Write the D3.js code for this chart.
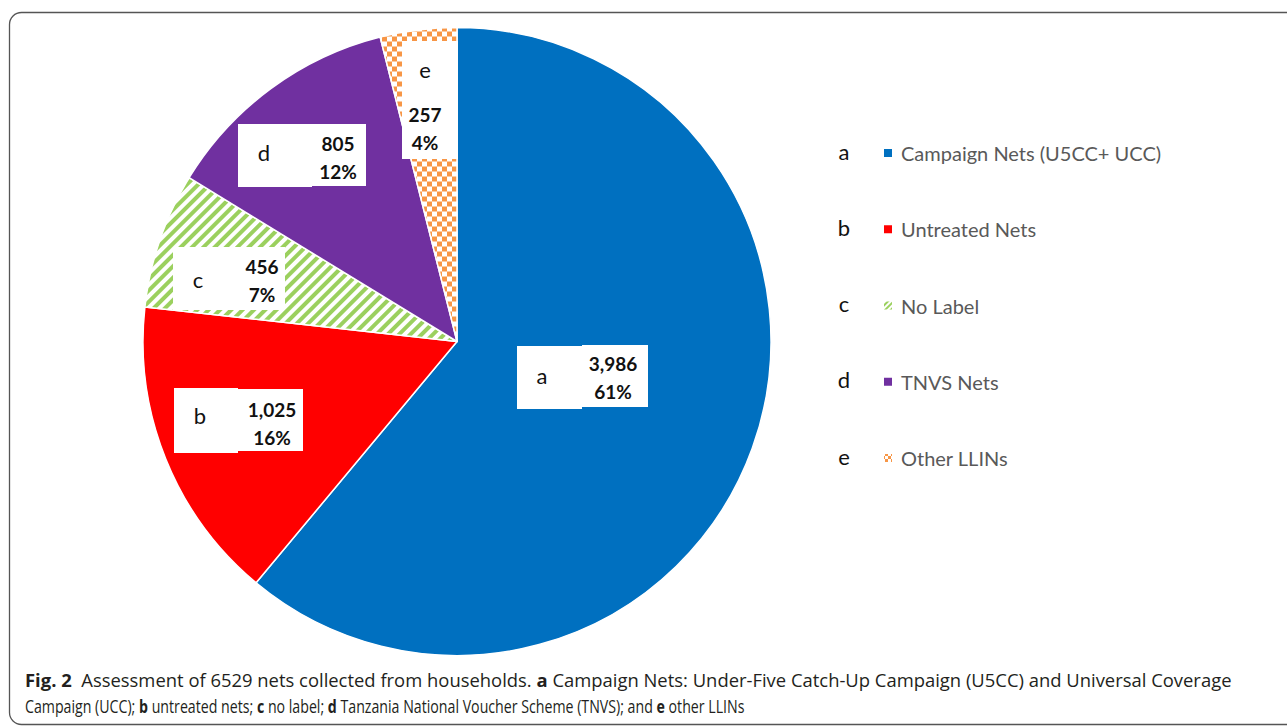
<!DOCTYPE html>
<html>
<head>
<meta charset="utf-8">
<script src="https://cdn.jsdelivr.net/npm/d3@7"></script>
<style>
  html, body { margin: 0; padding: 0; background: #fff; }
  svg { display: block; }
</style>
</head>
<body>
<svg id="chart" width="1287" height="726"></svg>
<script>
// Net categories, in pie order (clockwise from 12 o'clock)
const keys = ["a", "b", "c", "d", "e"];
const categories = ["Campaign Nets (U5CC+ UCC)", "Untreated Nets", "No Label", "TNVS Nets", "Other LLINs"];
const counts = [3986, 1025, 456, 805, 257];

// Caption text runs: [text, bold]
const captionLine1 = [
  ["Fig. 2", true], ["  Assessment of 6529 nets collected from households. ", false],
  ["a", true], [" Campaign Nets: Under-Five Catch-Up Campaign (U5CC) and Universal Coverage", false]
];
const captionLine2 = [
  ["Campaign (UCC); ", false], ["b", true], [" untreated nets; ", false], ["c", true],
  [" no label; ", false], ["d", true], [" Tanzania National Voucher Scheme (TNVS); and ", false],
  ["e", true], [" other LLINs", false]
];

// ---- styling / layout ----
const fills = { a: "#0070C0", b: "#FF0000", c: "url(#hatch)", d: "#7030A0", e: "url(#check)" };
const legendFills = { a: "#0070C0", b: "#FF0000", c: "url(#hatchSmall)", d: "#7030A0", e: "url(#checkSmall)" };
const cx = 457, cy = 341.5, radius = 314;
const labelFont = "Lato, 'Open Sans', sans-serif";

// label boxes: letter box + value box (absolute page coordinates)
const labelLayout = {
  a: { letter: [517, 346, 65, 63], value: [582, 345, 66, 62], lx: 542, ly: 375, vx: 613, vy: 363 },
  b: { letter: [174, 388, 64, 65], value: [237, 389, 66, 62], lx: 200, ly: 415, vx: 272, vy: 409 },
  c: { letter: [173, 247, 56, 63], value: [228, 247, 57, 63], lx: 198, ly: 279, vx: 262, vy: 266 },
  d: { letter: [238, 124, 74, 63], value: [311, 124, 55, 62], lx: 264, ly: 152, vx: 338, vy: 143 },
  e: { letter: [402, 41, 56, 118], value: [402, 41, 56, 118], lx: 425, ly: 69, vx: 425, vy: 114 }
};

const svg = d3.select("#chart");
const defs = svg.append("defs");

// green diagonal hatch
const hatch = defs.append("pattern").attr("id", "hatch")
  .attr("patternUnits", "userSpaceOnUse").attr("width", 8).attr("height", 8)
  .attr("patternTransform", "rotate(45)");
hatch.append("rect").attr("width", 8).attr("height", 8).attr("fill", "#ffffff");
hatch.append("rect").attr("width", 4).attr("height", 8).attr("fill", "#9BD05E");

const hatchS = defs.append("pattern").attr("id", "hatchSmall")
  .attr("patternUnits", "userSpaceOnUse").attr("width", 4).attr("height", 4)
  .attr("patternTransform", "rotate(45)");
hatchS.append("rect").attr("width", 4).attr("height", 4).attr("fill", "#ffffff");
hatchS.append("rect").attr("width", 2).attr("height", 4).attr("fill", "#9BD05E");

// orange checkerboard
const check = defs.append("pattern").attr("id", "check")
  .attr("patternUnits", "userSpaceOnUse").attr("width", 10).attr("height", 10);
check.append("rect").attr("width", 10).attr("height", 10).attr("fill", "#ffffff");
check.append("rect").attr("width", 5).attr("height", 5).attr("fill", "#F79646");
check.append("rect").attr("x", 5).attr("y", 5).attr("width", 5).attr("height", 5).attr("fill", "#F79646");

const checkS = defs.append("pattern").attr("id", "checkSmall")
  .attr("patternUnits", "userSpaceOnUse").attr("width", 6).attr("height", 6);
checkS.append("rect").attr("width", 6).attr("height", 6).attr("fill", "#ffffff");
checkS.append("rect").attr("width", 3).attr("height", 3).attr("fill", "#F79646");
checkS.append("rect").attr("x", 3).attr("y", 3).attr("width", 3).attr("height", 3).attr("fill", "#F79646");

// figure frame
svg.append("rect")
  .attr("x", 9.5).attr("y", 12.5).attr("width", 1300).attr("height", 712)
  .attr("rx", 12).attr("ry", 12)
  .attr("fill", "none").attr("stroke", "#555").attr("stroke-width", 1.3);

// pie
const data = keys.map((k, i) => ({ key: k, name: categories[i], value: counts[i] }));
const total = d3.sum(counts);
const pie = d3.pie().value(d => d.value).sort(null).startAngle(0).endAngle(2 * Math.PI);
const arc = d3.arc().innerRadius(0).outerRadius(radius);

const g = svg.append("g").attr("transform", `translate(${cx},${cy})`);
g.selectAll("path.slice")
  .data(pie(data))
  .join("path")
  .attr("class", "slice")
  .attr("d", arc)
  .attr("fill", d => fills[d.data.key])
  .attr("stroke", "#ffffff")
  .attr("stroke-width", 1.5)
  .attr("stroke-linejoin", "round");

// data labels
const fmt = d3.format(",");
const lab = svg.append("g").attr("class", "labels");
data.forEach(d => {
  const L = labelLayout[d.key];
  const grp = lab.append("g");
  [L.letter, L.value].forEach(b => {
    grp.append("rect").attr("x", b[0]).attr("y", b[1]).attr("width", b[2]).attr("height", b[3]).attr("fill", "#fff");
  });
  grp.append("text").attr("x", L.lx).attr("y", L.ly)
    .attr("text-anchor", "middle").attr("dominant-baseline", "central")
    .style("font-family", labelFont).style("font-size", "22px").attr("fill", "#111")
    .text(d.key);
  grp.append("text").attr("x", L.vx).attr("y", L.vy)
    .attr("text-anchor", "middle").attr("dominant-baseline", "central")
    .style("font-family", labelFont).style("font-size", "19px").style("font-weight", "700").attr("fill", "#111")
    .text(fmt(d.value));
  grp.append("text").attr("x", L.vx).attr("y", L.vy + 28)
    .attr("text-anchor", "middle").attr("dominant-baseline", "central")
    .style("font-family", labelFont).style("font-size", "19px").style("font-weight", "700").attr("fill", "#111")
    .text(Math.round(d.value / total * 100) + "%");
});

// legend
const legendY = d3.scalePoint().domain(keys).range([153, 458]);
const leg = svg.append("g").attr("class", "legend");
data.forEach(d => {
  const y = legendY(d.key);
  leg.append("text").attr("x", 844).attr("y", y - 2)
    .attr("text-anchor", "middle").attr("dominant-baseline", "central")
    .style("font-family", labelFont).style("font-size", "22px").attr("fill", "#111")
    .text(d.key);
  leg.append("rect").attr("x", 884).attr("y", y - 4).attr("width", 8).attr("height", 8)
    .attr("fill", legendFills[d.key]);
  leg.append("text").attr("x", 901).attr("y", y)
    .attr("dominant-baseline", "central")
    .style("font-family", labelFont).style("font-size", "20px").attr("fill", "#595959")
    .text(d.name);
});

// caption: each line set at natural width, then fitted horizontally to its column width
function captionLine(runs, y, width) {
  const wrap = svg.append("g");
  const t = wrap.append("text").attr("x", 0).attr("y", 0)
    .style("font-family", "'Open Sans', sans-serif")
    .style("font-size", "18.5px").attr("fill", "#231f20")
    .attr("xml:space", "preserve");
  runs.forEach(r => {
    t.append("tspan").style("font-weight", r[1] ? "700" : "400").text(r[0]);
  });
  const natural = t.node().getComputedTextLength();
  const k = width / natural;
  wrap.attr("transform", `translate(25,${y}) scale(${k},1)`);
}
captionLine(captionLine1, 687, 1207);
captionLine(captionLine2, 713, 720);
</script>
</body>
</html>
